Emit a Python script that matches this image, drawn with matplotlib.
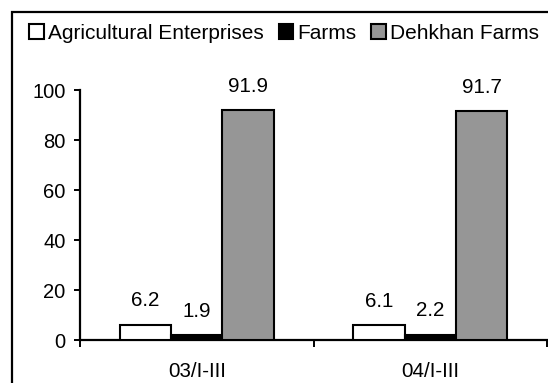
import matplotlib.pyplot as plt
import numpy as np
from matplotlib.patches import Patch, Rectangle

plt.rcParams['font.family'] = ['Liberation Sans', 'DejaVu Sans']

periods = ['03/I-III', '04/I-III']
series = ['Agricultural Enterprises', 'Farms', 'Dehkhan Farms']
agri_enterprises = [6.2, 6.1]
farms = [1.9, 2.2]
dehkhan_farms = [91.9, 91.7]
colors = ['white', 'black', '#969696']

fig = plt.figure(figsize=(5.48, 3.83), dpi=100)
ax = fig.add_axes([80 / 548, 1 - 340 / 383, 467 / 548, 250 / 383])

# outer frame (runs off the right and bottom edges)
fig.add_artist(Rectangle((11.5 / 548, -0.5), 2.0, 0.5 + 1 - 11.5 / 383,
                         transform=fig.transFigure, fill=False,
                         edgecolor='black', linewidth=1.6))

# title, mostly cut off above the picture
fig.text(463 / 548, 1 + 6.5 / 383, 'Shares by Kind of Farms in Agriculture (%)',
         ha='right', va='baseline', fontsize=14.8, fontweight='bold')

x = np.arange(len(periods))
w = 0.22
for i, (vals, c) in enumerate(zip([agri_enterprises, farms, dehkhan_farms], colors)):
    pos = x + (i - 1) * w
    ax.bar(pos, vals, w, color=c, edgecolor='black', linewidth=1.5, zorder=3)
    for p, v in zip(pos, vals):
        ax.annotate(f'{v:.1f}', (p, v), xytext=(0, 17), textcoords='offset points',
                    ha='center', va='center', fontsize=14.8)

ax.set_xlim(-0.5, 1.5)
ax.set_ylim(0, 100)
ax.set_yticks(np.arange(0, 101, 20))
ax.tick_params(axis='y', labelsize=14.5, length=4.5, width=1.4, pad=6)

ax.set_xticks([-0.5, 0.5, 1.5])
ax.set_xticklabels([])
ax.set_xticks(x, minor=True)
ax.set_xticklabels(periods, minor=True, fontsize=14.8)
ax.tick_params(axis='x', which='major', length=5, width=1.4, direction='out')
ax.tick_params(axis='x', which='minor', length=0, pad=16)

for s in ['top', 'right']:
    ax.spines[s].set_visible(False)
for s in ['left', 'bottom']:
    ax.spines[s].set_linewidth(1.6)

handles = [Patch(facecolor=c, edgecolor='black', linewidth=1.5) for c in colors]
fig.legend(handles, series, loc='center left', bbox_to_anchor=(29 / 548, 1 - 33.5 / 383),
           ncol=3, frameon=False, fontsize=15.0, handlelength=0.7, handleheight=0.7,
           handletextpad=0.2, columnspacing=0.72, borderpad=0, borderaxespad=0)

fig.savefig('out.png', dpi=100)
